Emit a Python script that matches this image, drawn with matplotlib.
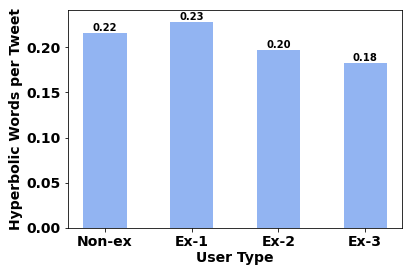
import matplotlib
matplotlib.use("Agg")
import matplotlib.pyplot as plt

user_types = ["Non-ex", "Ex-1", "Ex-2", "Ex-3"]
hyperbolic_words = [0.216, 0.228, 0.197, 0.182]


def main():
    fig, ax = plt.subplots(figsize=(412 / 72, 274 / 72), dpi=72)

    x = range(len(user_types))
    bars = ax.bar(x, hyperbolic_words, width=0.5, color="cornflowerblue", alpha=0.7)

    for b, v in zip(bars, hyperbolic_words):
        ax.text(b.get_x() + b.get_width() / 2, v, "%.2f" % v,
                ha="center", va="bottom", fontsize=10, fontweight="bold")

    ax.set_xticks(list(x))
    ax.set_xticklabels(user_types, fontsize=14, fontweight="bold")
    ax.tick_params(axis="y", labelsize=14)
    ax.set_ylim(0, 0.241)
    for lbl in ax.get_yticklabels():
        lbl.set_fontweight("bold")

    ax.set_xlabel("User Type", fontsize=14, fontweight="bold", labelpad=2)
    ax.set_ylabel("Hyperbolic Words per Tweet", fontsize=14, fontweight="bold")

    fig.subplots_adjust(left=0.165, right=0.976, top=0.9635, bottom=0.168)
    fig.savefig("out.png", dpi=72)


if __name__ == "__main__":
    main()
